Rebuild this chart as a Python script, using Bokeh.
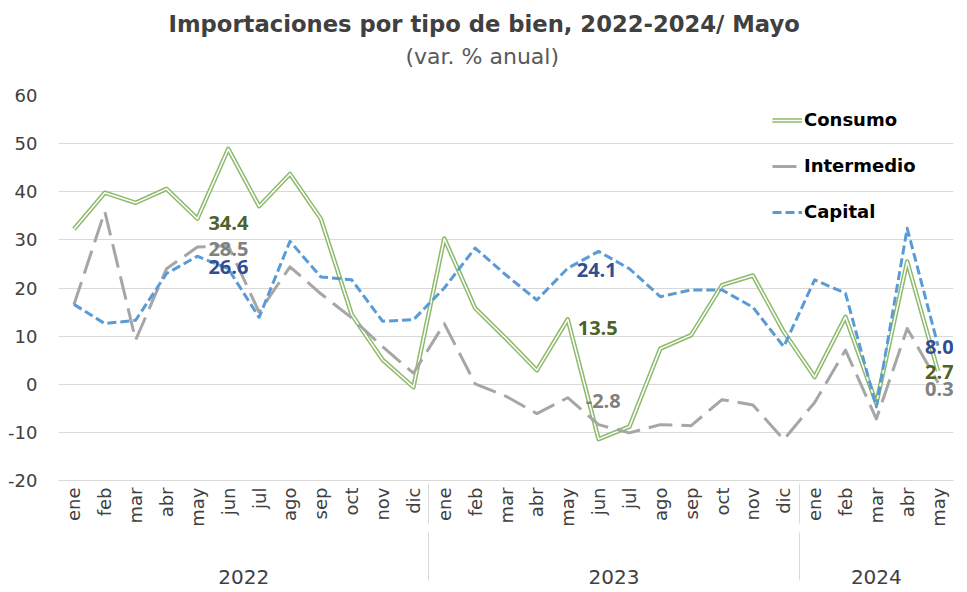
import math
from bokeh.plotting import figure
from bokeh.models import (ColumnDataSource, FactorRange, Range1d, Legend, LegendItem,
                          Title, FixedTicker, CategoricalAxis, LabelSet)
from bokeh.core.properties import value
from bokeh.embed import file_html
from bokeh.resources import INLINE

# ---------------- data ----------------
years = ["2022"] * 12 + ["2023"] * 12 + ["2024"] * 5
months = ["ene", "feb", "mar", "abr", "may", "jun", "jul", "ago", "sep", "oct", "nov", "dic",
          "ene", "feb", "mar", "abr", "may", "jun", "jul", "ago", "sep", "oct", "nov", "dic",
          "ene", "feb", "mar", "abr", "may"]

consumo = [32.2, 39.8, 37.7, 40.6, 34.4, 48.9, 37.0, 43.7, 34.4, 14.5, 5.1, -0.6,
           30.3, 15.8, 9.5, 2.9, 13.5, -11.4, -8.8, 7.4, 10.2, 20.6, 22.6, 10.9,
           1.5, 14.0, -4.0, 25.5, 2.7]
intermedio = [16.5, 35.9, 9.2, 24.0, 28.5, 28.8, 15.0, 24.4, 18.8, 13.8, 7.8, 2.3,
              12.6, 0.1, -2.5, -6.1, -2.8, -8.4, -10.1, -8.4, -8.6, -3.2, -4.3, -11.5,
              -3.8, 7.1, -7.2, 11.6, 0.3]
capital = [16.6, 12.6, 13.3, 23.0, 26.6, 24.0, 13.9, 29.7, 22.3, 21.7, 13.1, 13.4,
           20.0, 28.3, 22.7, 17.5, 24.1, 27.6, 24.0, 18.2, 19.6, 19.6, 16.0, 7.8,
           21.7, 18.9, -4.7, 32.4, 8.0]

series_names = ["Consumo", "Intermedio", "Capital"]
label_months = [4, 16, 28]          # indices of "may" in each year
y_ticks = [-20, -10, 0, 10, 20, 30, 40, 50, 60]

# ---------------- styling ----------------
FONT = "DejaVu Sans"
LBL_FONT = "Open Sans"
TXT = "#404040"
GREEN = "#8DBA6C"
GRAY = "#A6A6A6"
BLUE = "#5B9BD5"
LBL_COLORS = {"Consumo": "#4F6228", "Intermedio": "#808080", "Capital": "#2F4E93"}
# per-label (x_offset, y_offset downward) in px, by year index then series
LBL_OFFSETS = {
    (0, "Consumo"): (11, 4), (0, "Intermedio"): (11, 2), (0, "Capital"): (11, 11),
    (1, "Consumo"): (10, 9), (1, "Intermedio"): (18, 3), (1, "Capital"): (9, 2),
    (2, "Consumo"): (-13, 1), (2, "Intermedio"): (-13, 6), (2, "Capital"): (-13, 1),
}

factors = list(zip(years, months))
src = ColumnDataSource(dict(x=factors, consumo=consumo, intermedio=intermedio, capital=capital))

p = figure(x_range=FactorRange(*factors, range_padding=0, group_padding=0, factor_padding=0),
           y_range=Range1d(-20, 60),
           width=967, height=592, output_backend="svg", toolbar_location=None,
           min_border_left=58, min_border_right=14, min_border_top=95, min_border_bottom=112)

p.outline_line_color = None
p.background_fill_color = "white"
p.border_fill_color = "white"
p.xgrid.grid_line_color = None
p.ygrid.grid_line_color = "#D9D9D9"
p.ygrid.grid_line_width = 1

# lines
g_outer = p.line("x", "consumo", source=src, line_color=GREEN, line_width=4.5, line_join="round")
g_inner = p.line("x", "consumo", source=src, line_color="white", line_width=1.5, line_join="round")
gr = p.line("x", "intermedio", source=src, line_color=GRAY, line_width=3, line_dash="24 9",
            line_join="round")
bl = p.line("x", "capital", source=src, line_color=BLUE, line_width=3, line_dash="9 4",
            line_join="round")

# data labels
series_vals = {"Consumo": consumo, "Intermedio": intermedio, "Capital": capital}
lx, ly, lt, lc, lxo, lyo = [], [], [], [], [], []
for yi, idx in enumerate(label_months):
    for name in series_names:
        v = series_vals[name][idx]
        lx.append(factors[idx]); ly.append(v); lt.append(f"{v:.1f}")
        lc.append(LBL_COLORS[name])
        xo, yo = LBL_OFFSETS[(yi, name)]
        lxo.append(xo); lyo.append(-yo)
lsrc = ColumnDataSource(dict(x=lx, y=ly, text=lt, color=lc, xo=lxo, yo=lyo))
labels = LabelSet(x="x", y="y", text="text", source=lsrc, text_color="color",
                  x_offset="xo", y_offset="yo", text_font=value(LBL_FONT),
                  text_font_style="bold", text_font_size="20px",
                  text_baseline="middle", text_align="left")
p.add_layout(labels)

# legend
legend = Legend(items=[LegendItem(label="Consumo", renderers=[g_outer, g_inner]),
                       LegendItem(label="Intermedio", renderers=[gr]),
                       LegendItem(label="Capital", renderers=[bl])],
                location=(714, 258), orientation="vertical",
                background_fill_alpha=0, border_line_color=None,
                padding=0, margin=0, spacing=25, label_height=20, glyph_height=20,
                glyph_width=30, label_standoff=2,
                label_text_font=FONT, label_text_font_style="bold",
                label_text_font_size="18px", label_text_color="#000000")
p.add_layout(legend)

# y axis
p.yaxis.ticker = FixedTicker(ticks=y_ticks)
p.yaxis.major_label_overrides = {t: str(t) for t in y_ticks}
p.yaxis.axis_line_color = None
p.yaxis.major_tick_line_color = None
p.yaxis.major_tick_out = 0
p.yaxis.major_tick_in = 0
p.yaxis.minor_tick_line_color = None
p.yaxis.major_label_text_font = FONT
p.yaxis.major_label_text_font_size = "18px"
p.yaxis.major_label_text_color = TXT
p.yaxis.major_label_standoff = 21

# x axis: months (inner level)
ax1 = p.below[0]
ax1.axis_line_color = "#D9D9D9"
ax1.major_tick_line_color = None
ax1.major_tick_out = 0
ax1.minor_tick_line_color = None
ax1.major_label_orientation = math.pi / 2
ax1.major_label_text_font = FONT
ax1.major_label_text_font_size = "18px"
ax1.major_label_text_color = TXT
ax1.major_label_standoff = 7
ax1.group_text_font_size = "0px"
ax1.group_text_color = None
ax1.separator_line_color = "#D9D9D9"
ax1.separator_line_width = 1

# x axis: years (outer level)
ax2 = CategoricalAxis(axis_line_color=None, major_tick_line_color=None, major_tick_out=0,
                      minor_tick_line_color=None, major_label_text_font_size="0px",
                      major_label_text_color=None, major_label_standoff=40,
                      group_text_font=FONT, group_text_font_size="20px",
                      group_text_color=TXT, group_text_font_style="normal",
                      separator_line_color="#D9D9D9", separator_line_width=1)
p.add_layout(ax2, "below")

# titles (stacked outward from the plot frame: spacer, subtitle, title)
p.add_layout(Title(text=" ", text_font_size="1px", standoff=24), "above")
p.add_layout(Title(text="(var. % anual)", align="left", offset=347, text_font=FONT,
                   text_font_size="22px", text_font_style="normal", text_color="#595959",
                   standoff=0), "above")
p.add_layout(Title(text="Importaciones por tipo de bien, 2022-2024/ Mayo", align="left",
                   offset=110, text_font=FONT, text_font_size="22.7px",
                   text_font_style="bold", text_color=TXT, standoff=9), "above")

open("out.html", "w").write(file_html(p, INLINE))
